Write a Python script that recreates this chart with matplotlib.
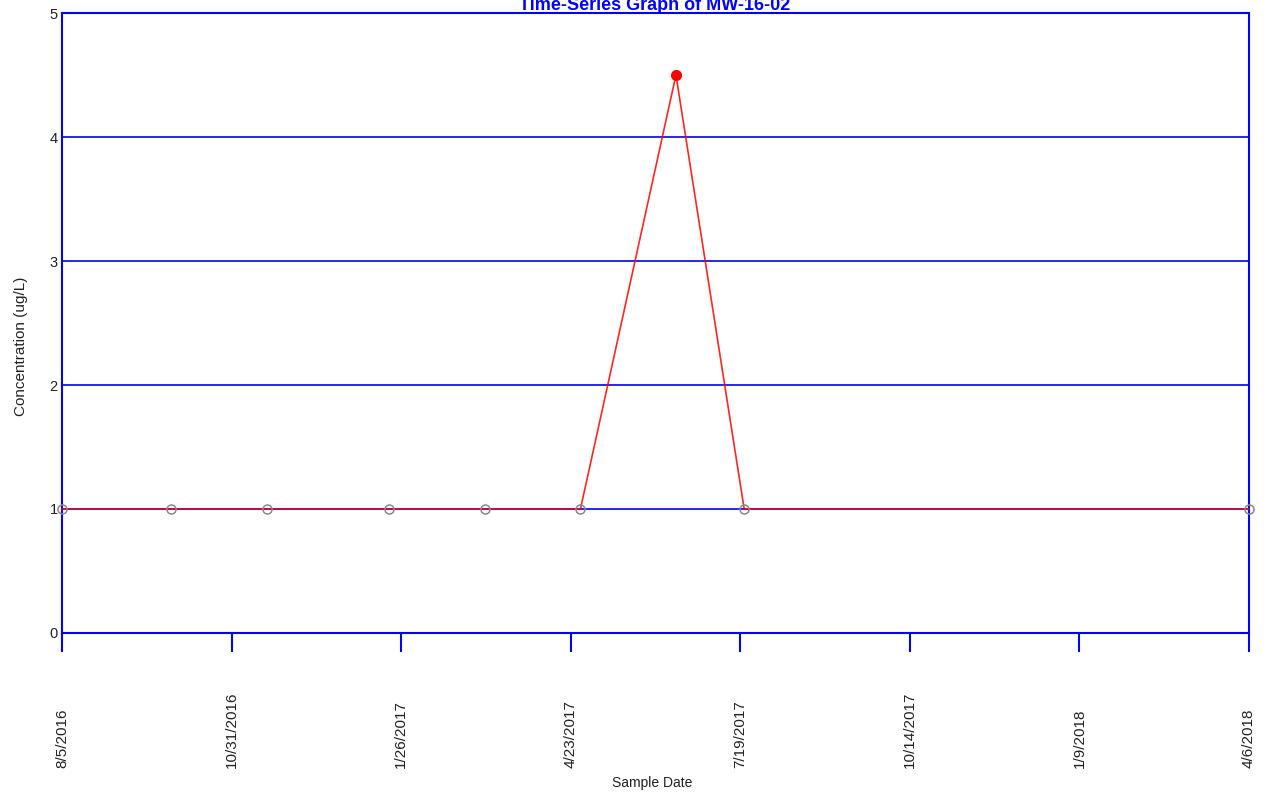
import numpy as np
import pandas as pd
import matplotlib
matplotlib.use("Agg")
import matplotlib.pyplot as plt

plt.rcParams["font.family"] = ["Liberation Sans", "DejaVu Sans"]

# sample data
sample_dates = ["8/5/2016", "9/30/2016", "11/18/2016", "1/20/2017", "3/10/2017",
                "4/28/2017", "6/16/2017", "7/21/2017", "4/6/2018"]
concentration = [1, 1, 1, 1, 1, 1, 4.5, 1, 1]
detected = [False, False, False, False, False, False, True, False, False]

tick_dates = ["8/5/2016", "10/31/2016", "1/26/2017", "4/23/2017", "7/19/2017",
              "10/14/2017", "1/9/2018", "4/6/2018"]
y_ticks = [0, 1, 2, 3, 4, 5]

BLUE = "#0000ff"
TXT = "#222222"

x = pd.to_datetime(sample_dates, format="%m/%d/%Y")
xt = pd.to_datetime(tick_dates, format="%m/%d/%Y")
y = np.array(concentration, dtype=float)
det = np.array(detected)

fig = plt.figure(figsize=(12.72, 7.98), dpi=100)
ax = fig.add_axes([62 / 1272, 1 - 633 / 798, (1249 - 62) / 1272, (633 - 13) / 798])

ax.set_xlim(xt[0], xt[-1])
ax.set_ylim(0, 5)

# grid + frame
ax.set_yticks(y_ticks)
ax.yaxis.grid(True, color=BLUE, linewidth=1.2)
ax.set_axisbelow(True)
for s in ax.spines.values():
    s.set_color(BLUE)
    s.set_linewidth(1.5)

ax.plot(x, y, color="red", linewidth=1.2, alpha=0.85, zorder=3, clip_on=False)
ax.plot(x[~det], y[~det], linestyle="none", marker="o", markersize=6.5,
        markerfacecolor="none", markeredgecolor="#888888", markeredgewidth=1.1,
        zorder=4, clip_on=False)
ax.plot(x[det], y[det], linestyle="none", marker="o", markersize=7,
        color="red", zorder=4, clip_on=False)

# x ticks hang below the frame, labels drawn bottom-aligned
ax.set_xticks(xt)
ax.tick_params(axis="x", direction="out", length=13.7, width=1.5, color=BLUE,
               labelbottom=False)
trans = ax.get_xaxis_transform()
for d, lab in zip(xt, tick_dates):
    ax.text(d, -0.2177, lab, rotation=90, ha="center", va="bottom",
            fontsize=11, color=TXT, transform=trans)

ax.tick_params(axis="y", length=0, pad=3, labelsize=10.5, labelcolor=TXT)

fig.text(655 / 1272, 1 - 9.5 / 798, "Time-Series Graph of MW-16-02", ha="center",
         va="baseline", fontsize=13, fontweight="bold", color=BLUE)
fig.text(21 / 1272, 1 - 346 / 798, "Concentration (ug/L)", rotation=90,
         ha="center", va="center", fontsize=11, color=TXT)
fig.text(652 / 1272, 1 - 783 / 798, "Sample Date", ha="center", va="center",
         fontsize=10, color=TXT)

fig.savefig("out.png", dpi=100)
